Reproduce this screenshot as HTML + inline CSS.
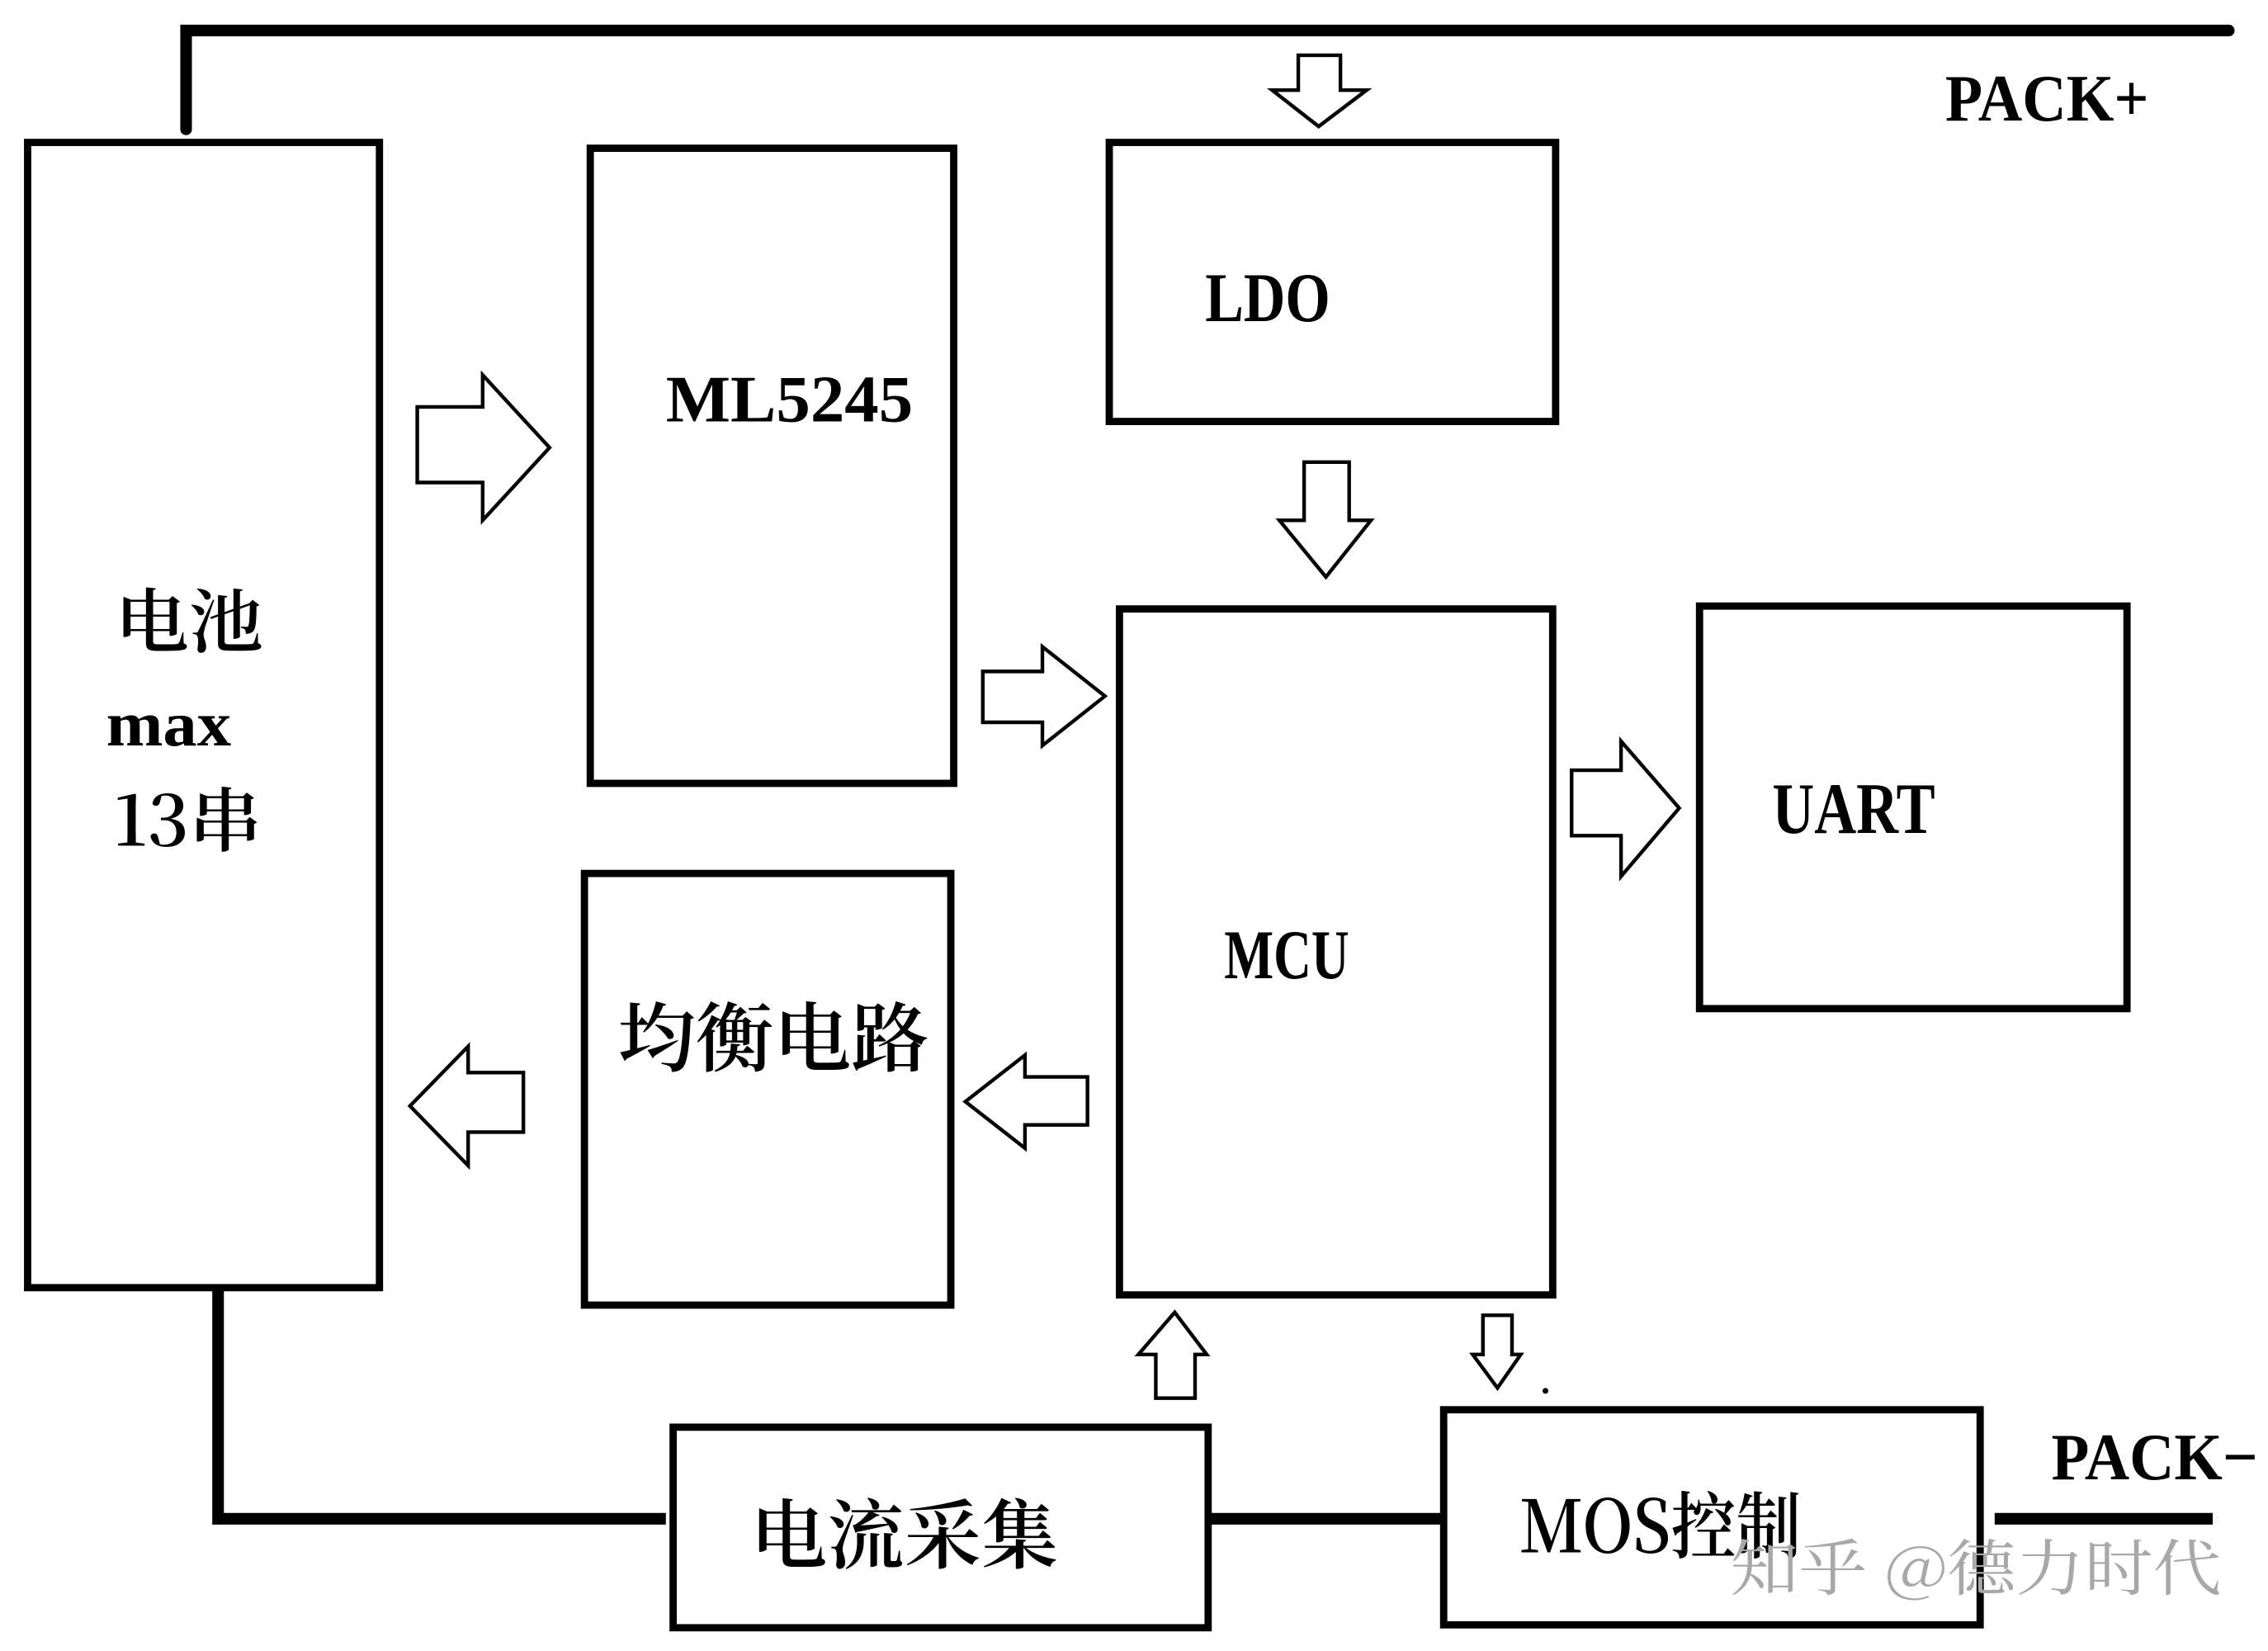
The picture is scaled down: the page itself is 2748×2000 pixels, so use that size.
<!DOCTYPE html>
<html><head><meta charset="utf-8"><style>
html,body{margin:0;padding:0;background:#fff;width:2748px;height:2000px;overflow:hidden}
svg{display:block}
text{font-family:"Liberation Serif","Noto Serif CJK SC",serif;fill:#000;font-weight:bold}
.cjk{font-family:"Noto Serif CJK SC","Liberation Serif",serif;font-weight:600}
</style></head><body>
<svg width="2748" height="2000" viewBox="0 0 1560 1136" preserveAspectRatio="none" xmlns="http://www.w3.org/2000/svg">
<rect width="1560" height="1136" fill="#fff"/>
<g fill="none" stroke="#000" stroke-linejoin="miter">
<path d="M128 89 V21 H1533" stroke-width="8" stroke-linecap="round"/>
<path d="M150 887 V1045 H458" stroke-width="8"/>
<path d="M832 1045 H992" stroke-width="8"/>
<path d="M1372 1045 H1522" stroke-width="8"/>
<rect x="19" y="98" width="242" height="788" stroke-width="5"/>
<rect x="406" y="102" width="250" height="437" stroke-width="5"/>
<rect x="763" y="98" width="307" height="192" stroke-width="5"/>
<rect x="770" y="419" width="298" height="472" stroke-width="5"/>
<rect x="1169" y="417" width="294" height="277" stroke-width="5"/>
<rect x="402" y="601" width="252" height="297" stroke-width="5"/>
<rect x="463" y="982" width="368" height="138" stroke-width="5"/>
<rect x="993" y="970" width="369" height="148" stroke-width="5"/>
<g stroke-width="2.5">
<polygon points="287,280 332,280 332,258 378,308 332,358 332,332 287,332"/>
<polygon points="676,462 717,462 717,445 760,479 717,513 717,497 676,497"/>
<polygon points="1081,530 1115,530 1115,510 1155,556 1115,603 1115,575 1081,575"/>
<polygon points="360,738 322,738 322,720 282,761 322,802 322,779 360,779"/>
<polygon points="748,741 705,741 705,726 664,758 705,790 705,774 748,774"/>
<polygon points="893,38 922,38 922,62 940,62 907,87 875,62 893,62"/>
<polygon points="897,318 928,318 928,358 943,358 912,397 880,358 897,358"/>
<polygon points="795,962 822,962 822,932 830,932 808,903 783,932 795,932"/>
<polygon points="1020,905 1040,905 1040,932 1046,932 1030,955 1013,932 1020,932"/>
</g>
</g>
<circle cx="1063" cy="957" r="2" fill="#000"/>
<text x="1338" y="83" font-size="46" textLength="140" lengthAdjust="spacingAndGlyphs">PACK+</text>
<text x="1411" y="1018" font-size="46" textLength="142" lengthAdjust="spacingAndGlyphs">PACK−</text>
<text x="829" y="221" font-size="48" textLength="86" lengthAdjust="spacingAndGlyphs">LDO</text>
<text x="458" y="290" font-size="46" textLength="170" lengthAdjust="spacingAndGlyphs">ML5245</text>
<text x="842" y="673" font-size="48" textLength="86" lengthAdjust="spacingAndGlyphs">MCU</text>
<text x="1219" y="573" font-size="50" textLength="112" lengthAdjust="spacingAndGlyphs">UART</text>
<text class="cjk" x="79" y="445" font-size="48" textLength="102" lengthAdjust="spacingAndGlyphs">电池</text>
<text x="73" y="513" font-size="44" textLength="86" lengthAdjust="spacingAndGlyphs">max</text>
<text class="cjk" x="78" y="582" font-size="48" textLength="102" lengthAdjust="spacingAndGlyphs">13串</text>
<text class="cjk" x="425" y="733" font-size="52" textLength="214" lengthAdjust="spacingAndGlyphs">均衡电路</text>
<text class="cjk" x="516" y="1075" font-size="52" textLength="212" lengthAdjust="spacingAndGlyphs">电流采集</text>
<text class="cjk" x="1045" y="1068" font-size="50" textLength="194" lengthAdjust="spacingAndGlyphs">MOS控制</text>
<text class="cjk" x="1190" y="1094" font-size="42" style="fill:#a8a8a8;font-weight:400" textLength="338" lengthAdjust="spacingAndGlyphs">知乎 @德力时代</text>
</svg>
</body></html>
